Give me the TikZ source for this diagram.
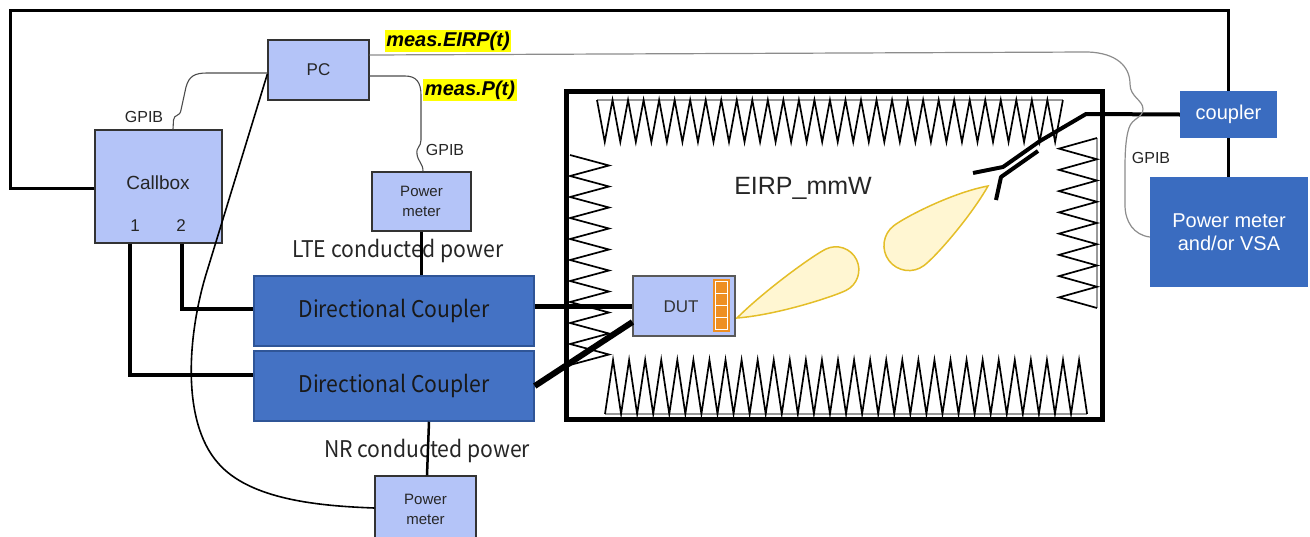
\documentclass[tikz,border=0pt]{standalone}
\usepackage{fontspec}
\setmainfont{Liberation Sans}
\newfontfamily\krfont[FakeStretch=0.92]{Noto Sans CJK KR}
\usetikzlibrary{calc}
\definecolor{boxlight}{RGB}{180,196,248}
\definecolor{dcblue}{RGB}{68,114,196}
\definecolor{dcedge}{RGB}{47,85,151}
\definecolor{instblue}{RGB}{58,108,192}
\definecolor{lobefill}{RGB}{255,246,210}
\definecolor{lobeedge}{RGB}{228,190,40}
\definecolor{arrayorange}{RGB}{238,143,35}
\definecolor{hl}{RGB}{255,255,0}

\begin{document}
\begin{tikzpicture}[x=1pt,y=-1pt,
  lightbox/.style={draw=black!80, line width=1.3pt, fill=boxlight, inner sep=0pt, align=center, text=black!85},
  dcbox/.style={draw=dcedge, line width=1.5pt, fill=dcblue, minimum width=280pt, minimum height=70pt,
    font=\krfont\fontsize{23}{27}\selectfont, text=black!90},
  instbox/.style={fill=instblue, text=white, align=center, inner sep=0pt, font=\fontsize{20}{23}\selectfont},
  gpib/.style={draw=black!70, line width=1.1pt},
  eirpwire/.style={draw=black!45, line width=1.2pt},
  cable/.style={draw=black, line width=3pt},
  rfline/.style={draw=black, line width=5pt},
  absorber/.style={draw=black, line width=1.7pt, line join=miter},
  absbase/.style={draw=black!40, line width=1.5pt},
  lbl/.style={font=\fontsize{16}{18}\selectfont, text=black!85},
  krlbl/.style={font=\krfont\fontsize{23}{27}\selectfont, text=black!85},
  tag/.style={fill=hl, inner sep=1.5pt, font=\bfseries\itshape\fontsize{20}{22}\selectfont},
  lobe/.style={fill=lobefill, draw=lobeedge, line width=1.5pt},
  probe/.style={draw=black, line width=4pt, line join=round},
]
\useasboundingbox (0,0) rectangle (1310,536);
\clip (0,0) rectangle (1310,536);

% ---------- anechoic chamber: absorber cones ----------
\draw[absbase] (597,100) -- (1063,100);
\draw[absorber] (597,100) \foreach \i in {0,...,29} { -- ({597+15.53*(\i+0.5)},142) -- ({597+15.53*(\i+1)},100) };
\draw[absbase] (605,414) -- (1087,414);
\draw[absorber] (605,414) \foreach \i in {0,...,29} { -- ({605+16.07*(\i+0.5)},360) -- ({605+16.07*(\i+1)},414) };
\draw[absorber] (570,155) \foreach \i in {0,...,9} { -- (609,{155+21*(\i+0.5)}) -- (570,{155+21*(\i+1)}) };
\draw[absbase] (1097,138) -- (1097,308);
\draw[absorber] (1097,138) \foreach \i in {0,...,7} { -- (1059,{138+21.25*(\i+0.5)}) -- (1097,{138+21.25*(\i+1)}) };

% chamber wall
\draw[line width=5pt] (566,91) rectangle (1102,419);

\node[font=\fontsize{25}{28}\selectfont, text=black!85] (eirp) at (803,188) {EIRP\_mmW};

% ---------- beams ----------
\begin{scope}[shift={(737,318)}, rotate=26]
  \path[lobe] (0,0) .. controls (38,15) and (96,23) .. (110,23)
    .. controls (122.7,23) and (133,12.7) .. (133,0)
    .. controls (133,-12.7) and (122.7,-23) .. (110,-23)
    .. controls (96,-23) and (38,-13) .. (0,0) -- cycle;
\end{scope}
\begin{scope}[shift={(988,186)}, rotate=217]
  \path[lobe] (0,0) .. controls (32,16) and (84,25) .. (99,25)
    .. controls (112.8,25) and (124,13.8) .. (124,0)
    .. controls (124,-13.8) and (112.8,-25) .. (99,-25)
    .. controls (84,-25) and (32,-14) .. (0,0) -- cycle;
\end{scope}

% ---------- instruments ----------
\node[lightbox, minimum width=101pt, minimum height=60pt, font=\fontsize{17}{20}\selectfont] (pc) at (318.5,70) {PC};
\node[lightbox, minimum width=127pt, minimum height=113pt] (callbox) at (158.5,186.5) {};
\node[font=\fontsize{19}{22}\selectfont, text=black!85] (cbname) at (158,183) {Callbox};
\node[font=\fontsize{17}{20}\selectfont, text=black!85] (port1) at (135,226) {1};
\node[font=\fontsize{17}{20}\selectfont, text=black!85] (port2) at (181,226) {2};
\node[lightbox, minimum width=99pt, minimum height=59pt, font=\fontsize{15}{20}\selectfont] (pm1) at (421.5,201.5) {Power\\meter};
\node[lightbox, minimum width=101pt, minimum height=66pt, font=\fontsize{15}{20}\selectfont] (pm2) at (425.5,509) {Power\\meter};
\node[dcbox] (dc1) at (394,311) {Directional Coupler};
\node[dcbox] (dc2) at (394,386) {Directional Coupler};

\node[lightbox, draw=black!65, line width=1.1pt, minimum width=102pt, minimum height=60pt] (dut) at (684,306) {};
\node[font=\fontsize{17}{20}\selectfont, text=black!80] (dutname) at (681,307) {DUT};
% antenna array on the DUT
\fill[arrayorange] (713,279) rectangle (730,332);
\draw[white, line width=1.2pt] (715.5,281.5) rectangle (727.5,329.5);
\foreach \y in {293.5,305.5,317.5} \draw[white, line width=1.2pt] (715.5,\y) -- (727.5,\y);

\node[instbox, minimum width=97pt, minimum height=47pt] (coupler) at (1228.5,114.5) {coupler};
\node[instbox, minimum width=158pt, minimum height=110pt] (vsa) at (1229,232) {Power meter\\and/or VSA};

% ---------- labels ----------
\node[lbl] (gpibA) at (144,117) {GPIB};
\node[lbl] (gpibB) at (445,150) {GPIB};
\node[lbl] (gpibC) at (1151,158) {GPIB};
\node[krlbl] (lte) at (398,251) {LTE conducted power};
\node[krlbl] (nr) at (427,451) {NR conducted power};
\node[tag] (tagE) at (448,41) {meas.EIRP(t)};
\node[tag] (tagP) at (470,90) {meas.P(t)};

% ---------- measurement antenna feed ----------
\coordinate (pbend) at (1086,114);
\coordinate (psplit) at (1040,141);
\draw[probe] (coupler.west) -- (pbend) -- (psplit) -- (1003,167) -- (973,173);
\draw[probe] (1038,151) -- (1001,177) -- (996,200);

% ---------- control (GPIB) wiring ----------
\draw[gpib] ([xshift=14.5pt]callbox.north) -- (173.5,120)
  .. controls (174,114) and (180,117) .. (181,110) -- (186,87)
  .. controls (189,76) and (195,73) .. (207,73) -- ([yshift=-3pt]pc.west);
\draw[gpib] ([yshift=-6pt]pc.east) -- (405,76)
  .. controls (416,76) and (421,82) .. (421,95) -- (421,140)
  .. controls (421,147) and (416,147) .. (417,154)
  .. controls (418,162) and (423,163) .. ([xshift=1.5pt]pm1.north);
\draw[eirpwire] ([yshift=15pt]pc.east) -- (1088,52)
  .. controls (1116,53) and (1130,66) .. (1130,84)
  .. controls (1130,97) and (1143,100) .. (1143,109)
  .. controls (1143,118) and (1132,118) .. (1129,128)
  .. controls (1126,137) and (1125,150) .. (1125,168) -- (1125,205)
  .. controls (1125,222) and (1134,235) .. ([yshift=-5pt]vsa.west);
\draw[line width=1.6pt] ([yshift=-4pt]pc.west) -- (208,268)
  .. controls (188,330) and (180,420) .. (218,463)
  .. controls (250,500) and (320,506) .. ([yshift=1pt]pm2.west);

% ---------- RF cabling ----------
\draw[cable, line join=miter] ([yshift=-1.5pt]callbox.west) -- (10,188) -- (10,10) -- (1228.5,10) -- (coupler.north);
\draw[cable, line width=2.5pt] (coupler.south) -- (coupler.south |- vsa.north);
\draw[cable, line width=3.5pt] ([xshift=23.5pt]callbox.south) |- ([yshift=2pt]dc1.west);
\draw[cable, line width=3.5pt] ([xshift=-28.5pt]callbox.south) |- ([yshift=11pt]dc2.west);
\draw[cable, line width=2.5pt] (pm1.south) -- (pm1.south |- dc1.north);
\draw[cable, line width=2.5pt] ([xshift=35pt]dc2.south) -- ([xshift=1.5pt]pm2.north);
\draw[rfline] (dc1.east |- dut.west) -- (dut.west);
\draw[rfline, line width=6pt] (dc2.east) -- ([yshift=-16pt]dut.west);
\end{tikzpicture}
\end{document}
